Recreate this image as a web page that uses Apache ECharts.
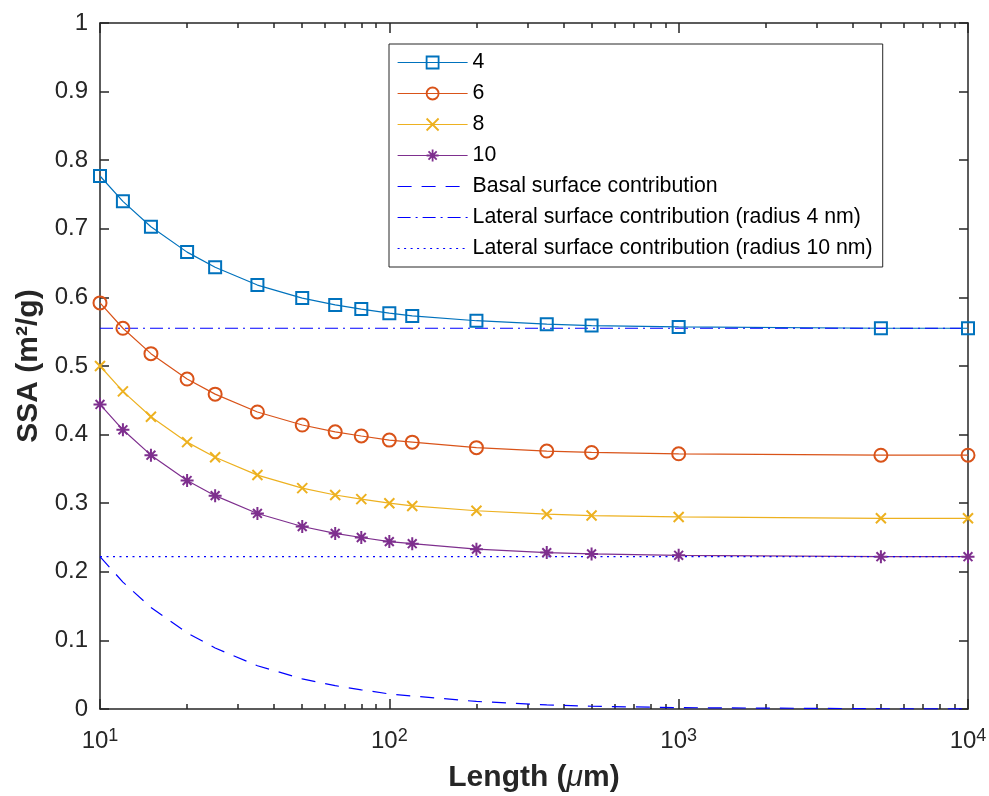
<!DOCTYPE html>
<html><head><meta charset="utf-8">
<script src="https://cdn.jsdelivr.net/npm/echarts@6/dist/echarts.min.js"></script>
<style>html,body{margin:0;padding:0;background:#fff}#c{width:989px;height:796px}</style>
</head><body><div id="c"></div>
<script>
// ---- data ----
const lengths = [10, 12, 15, 20, 25, 35, 50, 65, 80, 100, 120, 200, 350, 500, 1000, 5000, 10000];
const ssa4  = [0.777, 0.740, 0.703, 0.666, 0.644, 0.618, 0.599, 0.589, 0.583, 0.577, 0.573, 0.566, 0.561, 0.559, 0.557, 0.555, 0.555];
const ssa6  = [0.592, 0.555, 0.518, 0.481, 0.459, 0.433, 0.414, 0.404, 0.398, 0.392, 0.389, 0.381, 0.376, 0.374, 0.372, 0.370, 0.370];
const ssa8  = [0.500, 0.463, 0.426, 0.389, 0.367, 0.341, 0.322, 0.312, 0.306, 0.300, 0.296, 0.289, 0.284, 0.282, 0.280, 0.278, 0.278];
const ssa10 = [0.444, 0.407, 0.370, 0.333, 0.311, 0.285, 0.266, 0.256, 0.250, 0.244, 0.241, 0.233, 0.228, 0.226, 0.224, 0.222, 0.222];
const basal = [0.222, 0.185, 0.148, 0.111, 0.089, 0.063, 0.044, 0.034, 0.028, 0.022, 0.019, 0.011, 0.006, 0.004, 0.002, 0.0004, 0.0002];
const lateralX = [10, 10000];
const lateral4 = [0.555, 0.555];
const lateral10 = [0.222, 0.222];
const seriesNames = ['4', '6', '8', '10', 'Basal surface contribution',
  'Lateral surface contribution (radius 4 nm)', 'Lateral surface contribution (radius 10 nm)'];
const xMajorTicks = [10, 100, 1000, 10000];
const xMinorTicks = [20,30,40,50,60,70,80,90,200,300,400,500,600,700,800,900,2000,3000,4000,5000,6000,7000,8000,9000];

// ---- styling ----
const FONT = '"Liberation Sans", Arial, Helvetica, sans-serif';
const AX = '#262626';
const C4 = '#0072BD', C6 = '#D95319', C8 = '#EDB120', C10 = '#7E2F8E', CB = '#0000FF';
const SQ = 'path://M0,0H10V10H0Z';
const CI = 'path://M0,5A5,5,0,1,1,10,5A5,5,0,1,1,0,5Z';
const XX = 'path://M0,0L10,10M0,10L10,0';
const AST = 'path://M5,0V10M0,5H10M1.6,1.6L8.4,8.4M1.6,8.4L8.4,1.6';
const DASH = [14, 10], DASHDOT = [13, 5, 2, 5], DOT = [2, 4.5];

function pairs(xs, ys) { return xs.map((x, i) => [x, ys[i]]); }
function markSeries(name, ys, color, symbol, size) {
  return {
    name, type: 'line', data: pairs(lengths, ys), symbol, symbolSize: size,
    showSymbol: true, color,
    lineStyle: { color, width: 1.2 },
    itemStyle: { color: 'rgba(0,0,0,0)', borderColor: color, borderWidth: 2 },
    emphasis: { disabled: true }
  };
}
function refSeries(name, xs, ys, type) {
  return {
    name, type: 'line', data: pairs(xs, ys), symbol: 'circle', showSymbol: false, color: CB,
    lineStyle: { color: CB, width: 1.2, type },
    itemStyle: { color: 'rgba(0,0,0,0)', borderColor: 'rgba(0,0,0,0)', borderWidth: 0 },
    emphasis: { disabled: true }
  };
}
function refLegend(name, type) {
  return { name, lineStyle: { color: CB, width: 1.2, type },
    itemStyle: { color: 'rgba(0,0,0,0)', borderColor: 'rgba(0,0,0,0)', borderWidth: 0 } };
}

const chart = echarts.init(document.getElementById('c'), null, { renderer: 'canvas' });
const tickStyle = { lineStyle: { color: AX, width: 1.5 } };
const axLine = { show: true, lineStyle: { color: AX, width: 1.5 } };
chart.setOption({
  animation: false,
  backgroundColor: '#fff',
  textStyle: { fontFamily: FONT },
  grid: { left: 100, right: 21, top: 23, bottom: 87, containLabel: false, outerBoundsMode: 'none' },
  legend: {
    orient: 'vertical', left: 389, top: 44,
    padding: [8, 10, 8, 8],
    itemWidth: 70, itemHeight: 15, itemGap: 10,
    backgroundColor: '#fff', borderColor: AX, borderWidth: 1,
    selectedMode: false,
    textStyle: { fontFamily: FONT, fontSize: 21.3, lineHeight: 21, color: '#000' },
    itemStyle: { borderWidth: 1.8 },
    lineStyle: { width: 1.2 },
    data: [
      seriesNames[0], seriesNames[1], seriesNames[2], seriesNames[3],
      refLegend(seriesNames[4], DASH),
      refLegend(seriesNames[5], DASHDOT),
      refLegend(seriesNames[6], DOT)
    ]
  },
  xAxis: [
    {
      type: 'log', logBase: 10, min: 10, max: 10000, position: 'bottom',
      name: '{n|Length (}{i|μ}{n|m)}', nameLocation: 'middle', nameGap: 54,
      nameTextStyle: { rich: {
        n: { fontFamily: FONT, fontSize: 30, fontWeight: 'bold', color: AX },
        i: { fontFamily: FONT, fontSize: 30, fontStyle: 'italic', color: AX }
      } },
      axisLine: axLine,
      axisTick: { show: true, inside: true, length: 10, customValues: xMajorTicks, ...tickStyle },
      axisLabel: {
        margin: 18, customValues: xMajorTicks,
        formatter: v => '{b|10}{s|' + Math.round(Math.log10(v)) + '}',
        rich: {
          b: { fontFamily: FONT, fontSize: 24, lineHeight: 28, color: AX },
          s: { fontFamily: FONT, fontSize: 18, lineHeight: 14, verticalAlign: 'top', color: AX }
        }
      },
      splitLine: { show: false }
    },
    {
      type: 'log', logBase: 10, min: 10, max: 10000, position: 'bottom',
      axisLine: { show: false },
      axisTick: { show: true, inside: true, length: 5, customValues: xMinorTicks, ...tickStyle },
      axisLabel: { show: false }, splitLine: { show: false }
    },
    {
      type: 'log', logBase: 10, min: 10, max: 10000, position: 'top',
      axisLine: axLine,
      axisTick: { show: true, inside: true, length: 10, customValues: xMajorTicks, ...tickStyle },
      axisLabel: { show: false }, splitLine: { show: false }
    },
    {
      type: 'log', logBase: 10, min: 10, max: 10000, position: 'top',
      axisLine: { show: false },
      axisTick: { show: true, inside: true, length: 5, customValues: xMinorTicks, ...tickStyle },
      axisLabel: { show: false }, splitLine: { show: false }
    }
  ],
  yAxis: [
    {
      type: 'value', min: 0, max: 1, interval: 0.1, position: 'left',
      name: 'SSA (m²/g)', nameLocation: 'middle', nameGap: 52, nameRotate: 90,
      nameTextStyle: { fontFamily: FONT, fontSize: 30, fontWeight: 'bold', color: AX },
      axisLine: axLine,
      axisTick: { show: true, inside: true, length: 9, ...tickStyle },
      axisLabel: { margin: 12, fontFamily: FONT, fontSize: 24, color: AX },
      splitLine: { show: false }
    },
    {
      type: 'value', min: 0, max: 1, interval: 0.1, position: 'right',
      axisLine: axLine,
      axisTick: { show: true, inside: true, length: 9, ...tickStyle },
      axisLabel: { show: false }, splitLine: { show: false }
    }
  ],
  series: [
    markSeries(seriesNames[0], ssa4, C4, SQ, 12),
    markSeries(seriesNames[1], ssa6, C6, CI, 13),
    markSeries(seriesNames[2], ssa8, C8, XX, 10),
    markSeries(seriesNames[3], ssa10, C10, AST, 13),
    refSeries(seriesNames[4], lengths, basal, DASH),
    refSeries(seriesNames[5], lateralX, lateral4, DASHDOT),
    refSeries(seriesNames[6], lateralX, lateral10, DOT)
  ]
});
</script></body></html>
